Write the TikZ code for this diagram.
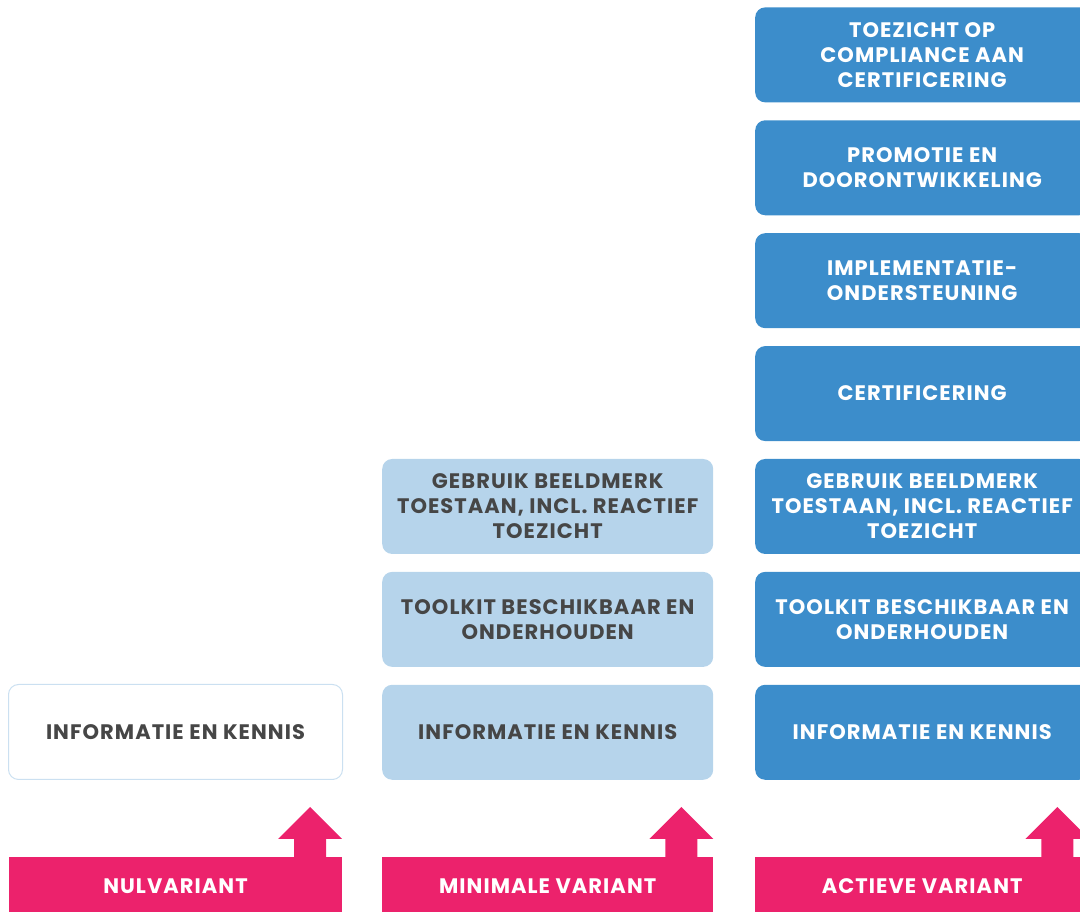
\documentclass[tikz,border=0pt]{standalone}
\usepackage{fontspec}
\setmainfont{Poppins}[LetterSpace=5]
\usetikzlibrary{positioning}

\definecolor{actiefblauw}{RGB}{60,141,203}
\definecolor{minblauw}{RGB}{182,212,235}
\definecolor{randblauw}{RGB}{203,224,241}
\definecolor{tekstgrijs}{RGB}{70,70,70}
\definecolor{variantroze}{RGB}{236,34,108}

\begin{document}
\begin{tikzpicture}[
		x=1pt, y=1pt,
		node distance=17.5pt,
		blok/.style={rectangle, rounded corners=10pt, minimum width=334pt, minimum height=95pt, inner sep=0pt, align=center, font=\bfseries\fontsize{21}{25}\selectfont},
		nulblok/.style={blok, draw=randblauw, line width=1pt, fill=white, text=tekstgrijs},
		minblok/.style={blok, minimum width=331pt, fill=minblauw, text=tekstgrijs},
		actiefblok/.style={blok, fill=actiefblauw, text=white},
		balk/.style={rectangle, minimum height=58pt, inner sep=0pt, fill=variantroze, text=white, font=\bfseries\fontsize{21}{25}\selectfont}
		]
		\useasboundingbox (0,0) rectangle (1080,912);
		\clip (0,0) rectangle (1080,912);
		% Nulvariant
		\node[nulblok, anchor=south west] (nulinfo) at (8,132) {INFORMATIE EN KENNIS};
		% Minimale variant
		\node[minblok, anchor=south west] (mininfo) at (382,132) {INFORMATIE EN KENNIS};
		\node[minblok, above=of mininfo] (mintoolkit) {TOOLKIT BESCHIKBAAR EN\\ONDERHOUDEN};
		\node[minblok, above=of mintoolkit] (minbeeldmerk) {GEBRUIK BEELDMERK\\TOESTAAN, INCL. REACTIEF\\TOEZICHT};
		% Actieve variant
		\node[actiefblok, anchor=south west] (actinfo) at (755,132) {INFORMATIE EN KENNIS};
		\node[actiefblok, above=of actinfo] (acttoolkit) {TOOLKIT BESCHIKBAAR EN\\ONDERHOUDEN};
		\node[actiefblok, above=of acttoolkit] (actbeeldmerk) {GEBRUIK BEELDMERK\\TOESTAAN, INCL. REACTIEF\\TOEZICHT};
		\node[actiefblok, above=of actbeeldmerk] (actcert) {CERTIFICERING};
		\node[actiefblok, above=of actcert] (actimpl) {IMPLEMENTATIE-\\ONDERSTEUNING};
		\node[actiefblok, above=of actimpl] (actpromotie) {PROMOTIE EN\\DOORONTWIKKELING};
		\node[actiefblok, above=of actpromotie] (acttoezicht) {TOEZICHT OP\\COMPLIANCE AAN\\CERTIFICERING};
		% Varianten onderaan
		\node[balk, minimum width=333pt, below=77pt of nulinfo] (nulbalk) {NULVARIANT};
		\node[balk, minimum width=331pt, below=77pt of mininfo] (minbalk) {MINIMALE VARIANT};
		\node[balk, minimum width=334pt, below=77pt of actinfo] (actbalk) {ACTIEVE VARIANT};
		% Pijlen omhoog
		\foreach \b in {nulbalk, minbalk, actbalk}
		\fill[variantroze] (\b.north east) ++(-48,-1) -- ++(0,19) -- ++(-16,0) -- ++(32,32) -- ++(32,-32) -- ++(-16,0) -- ++(0,-19) -- cycle;
\end{tikzpicture}
\end{document}
